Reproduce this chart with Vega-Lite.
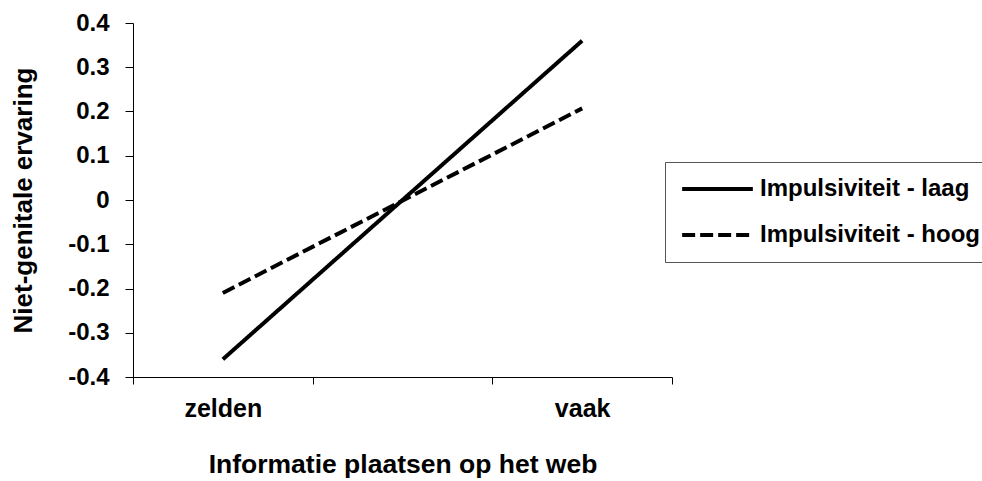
{
  "$schema": "https://vega.github.io/schema/vega-lite/v6.json",
  "autosize": "none",
  "width": 539,
  "height": 354,
  "padding": {"left": 133, "top": 23, "right": 310, "bottom": 104},
  "background": "white",
  "config": {
    "font": "Liberation Sans",
    "view": {"stroke": null}
  },
  "data": {
    "values": [
      {"freq": "zelden", "value": -0.36, "group": "Impulsiviteit - laag"},
      {"freq": "vaak", "value": 0.36, "group": "Impulsiviteit - laag"},
      {"freq": "zelden", "value": -0.21, "group": "Impulsiviteit - hoog"},
      {"freq": "vaak", "value": 0.207, "group": "Impulsiviteit - hoog"}
    ]
  },
  "mark": {"type": "line", "color": "black", "strokeWidth": 4, "strokeCap": "butt"},
  "encoding": {
    "x": {
      "field": "freq",
      "type": "nominal",
      "scale": {"type": "band", "domain": ["zelden", "mid", "vaak"], "paddingInner": 0, "paddingOuter": 0},
      "axis": {
        "title": "Informatie plaatsen op het web",
        "labelAngle": 0,
        "tickBand": "extent",
        "labelExpr": "datum.value == 'mid' ? '' : datum.value",
        "labelFont": "Liberation Sans",
        "labelFontWeight": "bold",
        "labelFontSize": 25,
        "labelColor": "black",
        "labelPadding": 12,
        "tickSize": 7,
        "tickColor": "black",
        "domainColor": "black",
        "titleFont": "Liberation Sans",
        "titleFontWeight": "bold",
        "titleFontSize": 26.5,
        "titleColor": "black",
        "titlePadding": 30,
        "grid": false
      }
    },
    "y": {
      "field": "value",
      "type": "quantitative",
      "scale": {"domain": [-0.4, 0.4], "nice": false, "zero": false},
      "axis": {
        "title": "Niet-genitale ervaring",
        "values": [-0.4, -0.3, -0.2, -0.1, 0, 0.1, 0.2, 0.3, 0.4],
        "labelExpr": "datum.value == 0 ? '0' : (datum.value < 0 ? '-' : '') + format(abs(datum.value), '.1f')",
        "labelFont": "Liberation Sans",
        "labelFontWeight": "bold",
        "labelFontSize": 24,
        "labelColor": "black",
        "labelPadding": 16,
        "tickSize": 8,
        "tickColor": "black",
        "domainColor": "black",
        "titleFont": "Liberation Sans",
        "titleFontWeight": "bold",
        "titleFontSize": 26,
        "titleColor": "black",
        "titlePadding": 31,
        "grid": false
      }
    },
    "strokeDash": {
      "field": "group",
      "type": "nominal",
      "scale": {"domain": ["Impulsiviteit - laag", "Impulsiviteit - hoog"], "range": [[1, 0], [13, 5]]},
      "legend": {
        "title": null,
        "orient": "none",
        "legendX": 532,
        "legendY": 139,
        "strokeColor": "#555555",
        "padding": 15,
        "clipHeight": 24,
        "symbolType": "stroke",
        "symbolSize": 5000,
        "symbolStrokeWidth": 4,
        "symbolStrokeColor": "black",
        "labelFont": "Liberation Sans",
        "labelFontWeight": "bold",
        "labelFontSize": 24,
        "labelColor": "black",
        "labelOffset": 5,
        "rowPadding": 22,
        "labelLimit": 400
      }
    }
  }
}
